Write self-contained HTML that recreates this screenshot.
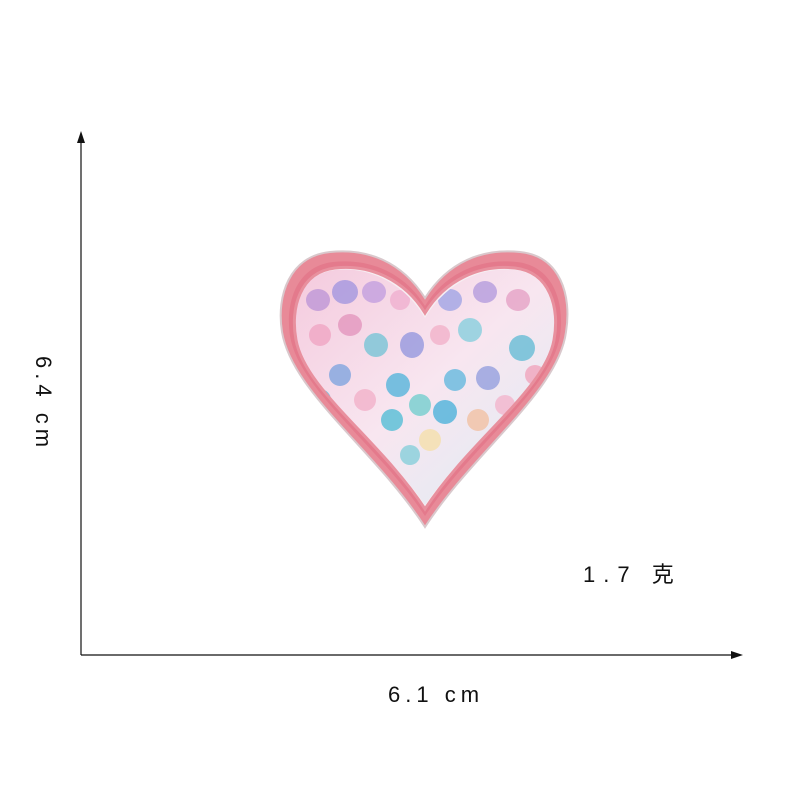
<!DOCTYPE html>
<html>
<head>
<meta charset="utf-8">
<style>
  html,body{margin:0;padding:0;background:#fff;}
  svg{display:block;}
  text{font-family:"Liberation Sans","Noto Sans CJK SC",sans-serif;fill:#111;}
</style>
</head>
<body>
<svg width="800" height="800" viewBox="0 0 800 800">
  <defs>
    <clipPath id="innerClip">
      <path d="M425,318 C405,284 370,266 335,270 C300,274 290,310 296,340 C305,390 380,440 425,505 C470,440 545,390 554,340 C560,310 550,274 515,270 C480,266 445,284 425,318 Z"/>
    </clipPath>
    <linearGradient id="bg" x1="0" y1="0" x2="1" y2="1">
      <stop offset="0" stop-color="#f4c8dc"/>
      <stop offset="0.5" stop-color="#f8e6f0"/>
      <stop offset="1" stop-color="#d9eef5"/>
    </linearGradient>
  </defs>

  <g>
    <line x1="81" y1="140" x2="81" y2="655" stroke="#111" stroke-width="1.2"/>
    <polygon points="81,131 77,143 85,143" fill="#111"/>
  </g>
  <g>
    <line x1="81" y1="655" x2="735" y2="655" stroke="#111" stroke-width="1.2"/>
    <polygon points="743,655 731,651 731,659" fill="#111"/>
  </g>

  <text x="0" y="0" font-size="22" letter-spacing="5" transform="translate(36,356) rotate(90)">6.4 cm</text>
  <text x="388" y="702" font-size="22" letter-spacing="5">6.1 cm</text>
  <text x="583" y="582" font-size="22" letter-spacing="8">1.7 克</text>

  <g>
    <path d="M425,298 C402,262 368,248 330,252 C290,256 276,295 282,332 C292,392 375,450 425,527 C475,450 558,392 566,332 C572,295 560,256 520,252 C482,248 448,262 425,298 Z" fill="#e88a98" stroke="#d9c8cc" stroke-width="2"/>
    <path d="M425,306 C404,272 369,258 333,262 C297,266 285,302 290,336 C299,390 378,445 425,516 C472,445 551,390 560,336 C565,302 553,266 517,262 C481,258 446,272 425,306 Z" fill="#e47a8c"/>
    <path d="M425,313 C405,280 370,264 335,268 C300,272 290,308 296,340 C305,390 380,440 425,509 C470,440 545,390 554,340 C560,308 550,272 515,268 C480,264 445,280 425,313 Z" fill="#f6eef2"/>
    <g clip-path="url(#innerClip)">
      <rect x="280" y="260" width="290" height="260" fill="url(#bg)"/>
      <g opacity="0.85">
        <ellipse cx="318" cy="300" rx="12" ry="11" fill="#c19ad8"/>
        <ellipse cx="345" cy="292" rx="13" ry="12" fill="#a89ae0"/>
        <ellipse cx="374" cy="292" rx="12" ry="11" fill="#c6a3e0"/>
        <ellipse cx="400" cy="300" rx="10" ry="10" fill="#f0b2d0"/>
        <ellipse cx="350" cy="325" rx="12" ry="11" fill="#e49ac0"/>
        <ellipse cx="376" cy="345" rx="12" ry="12" fill="#7fc6d8"/>
        <ellipse cx="320" cy="335" rx="11" ry="11" fill="#f0a9c6"/>
        <ellipse cx="412" cy="345" rx="12" ry="13" fill="#9c9de0"/>
        <ellipse cx="450" cy="300" rx="12" ry="11" fill="#a6a8e6"/>
        <ellipse cx="485" cy="292" rx="12" ry="11" fill="#b9a0de"/>
        <ellipse cx="518" cy="300" rx="12" ry="11" fill="#e7a6c8"/>
        <ellipse cx="470" cy="330" rx="12" ry="12" fill="#8fd0de"/>
        <ellipse cx="440" cy="335" rx="10" ry="10" fill="#f3b4cc"/>
        <ellipse cx="522" cy="348" rx="13" ry="13" fill="#6fbfd8"/>
        <ellipse cx="488" cy="378" rx="12" ry="12" fill="#9aa4e0"/>
        <ellipse cx="455" cy="380" rx="11" ry="11" fill="#6ebbe0"/>
        <ellipse cx="398" cy="385" rx="12" ry="12" fill="#60b8dc"/>
        <ellipse cx="340" cy="375" rx="11" ry="11" fill="#88a8e0"/>
        <ellipse cx="365" cy="400" rx="11" ry="11" fill="#f3b4cc"/>
        <ellipse cx="420" cy="405" rx="11" ry="11" fill="#7ccfd0"/>
        <ellipse cx="445" cy="412" rx="12" ry="12" fill="#58b5dc"/>
        <ellipse cx="392" cy="420" rx="11" ry="11" fill="#5fc0d8"/>
        <ellipse cx="478" cy="420" rx="11" ry="11" fill="#f1c3a8"/>
        <ellipse cx="430" cy="440" rx="11" ry="11" fill="#f5e0b0"/>
        <ellipse cx="410" cy="455" rx="10" ry="10" fill="#8ed0dc"/>
        <ellipse cx="320" cy="400" rx="11" ry="11" fill="#6cc0e0"/>
        <ellipse cx="505" cy="405" rx="10" ry="10" fill="#f2b8cf"/>
        <ellipse cx="535" cy="375" rx="10" ry="10" fill="#f0a8c0"/>
      </g>
    </g>
    <path d="M425,313 C405,280 370,264 335,268 C300,272 290,308 296,340 C305,390 380,440 425,509 C470,440 545,390 554,340 C560,308 550,272 515,268 C480,264 445,280 425,313 Z" fill="none" stroke="#e8909e" stroke-width="3"/>
  </g>
</svg>
</body>
</html>
